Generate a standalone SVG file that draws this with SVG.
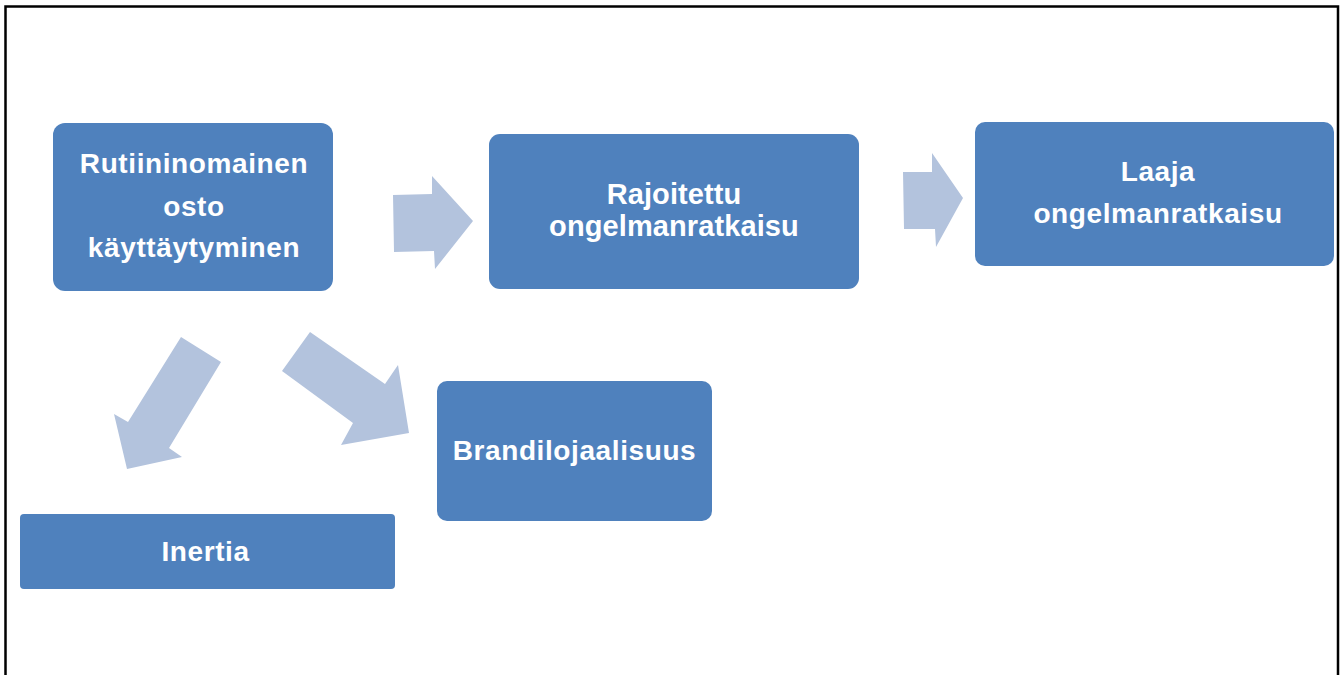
<svg xmlns="http://www.w3.org/2000/svg" width="1344" height="675" viewBox="0 0 1344 675">
<style>
.node{fill:#4F81BD;}
.arrow{fill:#B3C3DD;}
.t{font-family:"Liberation Sans",Arial,sans-serif;font-weight:bold;font-size:28px;fill:#FFFFFF;text-anchor:middle;letter-spacing:0.6px;}
.t2{font-size:29px;letter-spacing:0.1px;}
</style>
<rect x="0" y="0" width="1344" height="675" fill="#FFFFFF"/>
<path d="M5.5 675 V6.5 H1338 V675" fill="none" stroke="#000000" stroke-width="2.5"/>
<g id="connectors">
<polygon class="arrow" points="393,195 432,194 432,176 473,221 435,269 434,251 394,252"/>
<polygon class="arrow" points="903,172 932,172 932,153 963,198 936,247 935,229 904,229"/>
<polygon class="arrow" points="221,362 181,337 128,422 114,414 127,469 182,457 169,448"/>
<polygon class="arrow" points="310,332 282,371 353,423 341,445 409,433 398,365 385,384"/>
</g>
<g id="node-rutiini">
<rect class="node" x="53" y="123" width="280" height="168" rx="12"/>
<text class="t" x="194" y="173">Rutiininomainen</text>
<text class="t" x="194" y="216">osto</text>
<text class="t" x="194" y="257">käyttäytyminen</text>
</g>
<g id="node-rajoitettu">
<rect class="node" x="489" y="134" width="370" height="155" rx="11"/>
<text class="t t2" x="674" y="204">Rajoitettu</text>
<text class="t t2" x="674" y="236">ongelmanratkaisu</text>
</g>
<g id="node-laaja">
<rect class="node" x="975" y="122" width="359" height="144" rx="10"/>
<text class="t" x="1158" y="181">Laaja</text>
<text class="t" x="1158" y="223">ongelmanratkaisu</text>
</g>
<g id="node-brandi">
<rect class="node" x="437" y="381" width="275" height="140" rx="10"/>
<text class="t" x="574.5" y="460">Brandilojaalisuus</text>
</g>
<g id="node-inertia">
<rect class="node" x="20" y="514" width="375" height="75" rx="4"/>
<text class="t" x="205.5" y="561">Inertia</text>
</g>
</svg>
